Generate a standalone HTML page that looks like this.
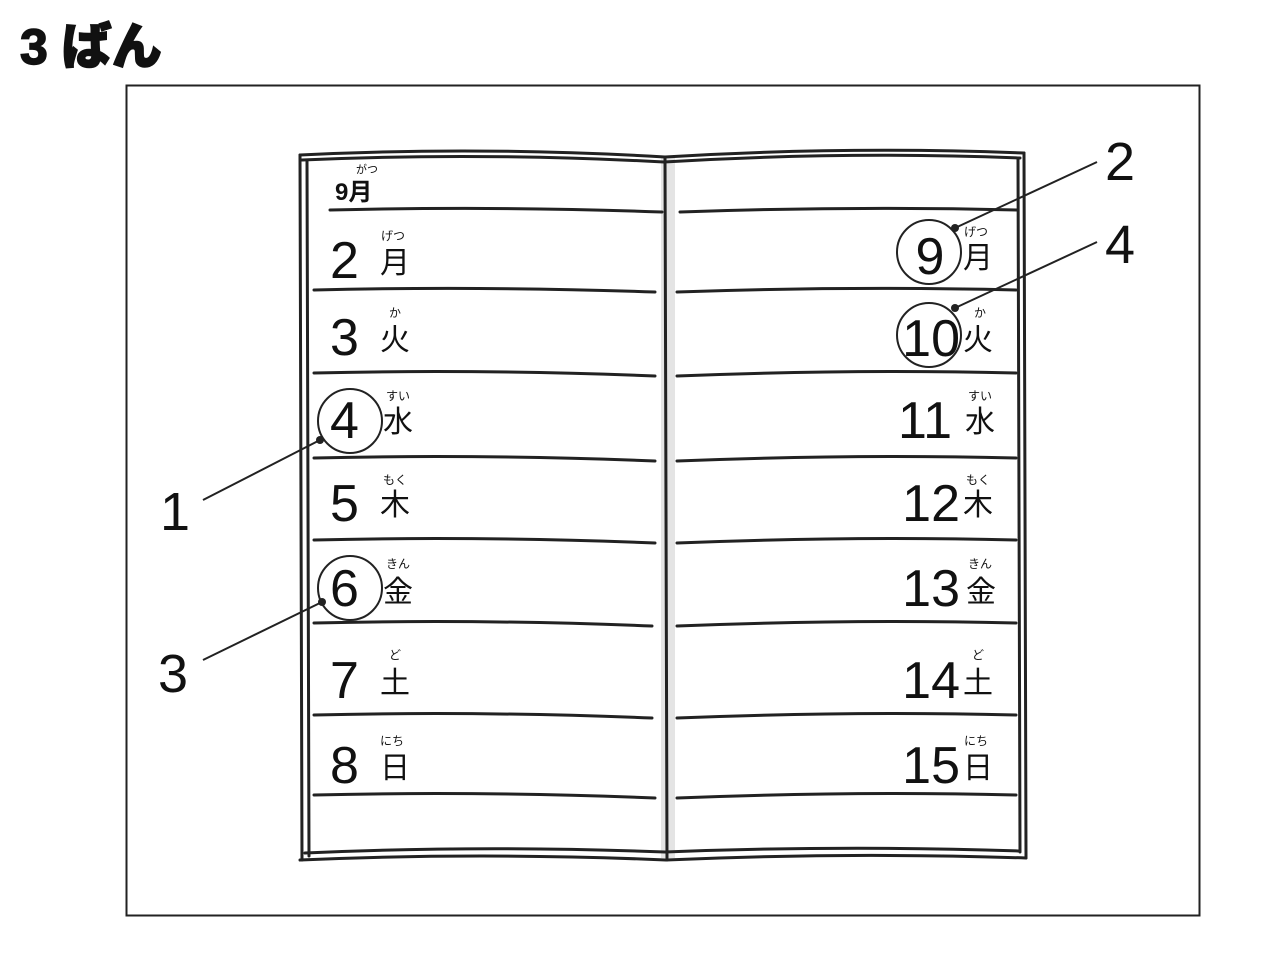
<!DOCTYPE html>
<html><head><meta charset="utf-8"><style>
html,body{margin:0;padding:0;background:#fff;}
body{width:1262px;height:972px;overflow:hidden;}
svg{display:block;font-family:"Liberation Sans","Noto Sans CJK JP",sans-serif;}
</style></head><body>
<svg width="1262" height="972" viewBox="0 0 1262 972">
<text x="20" y="64" font-size="50" font-weight="900" fill="#111" stroke="#111" stroke-width="1.5">3 ばん</text>
<rect x="126.5" y="85.5" width="1073" height="830" fill="none" stroke="#222" stroke-width="2"/>
<rect x="661" y="158" width="14" height="700" fill="#e4e4e4"/>
<g fill="none" stroke="#222" stroke-width="3" stroke-linecap="round">
<path d="M300 155 Q480 146 665 157 Q845 146 1024 153"/>
<path d="M302 160 Q480 152 664 162 Q845 151 1020 158"/>
<path d="M300 155 L302 860 M307 160 L309 856 M1024 153 L1026 858 M1018 158 L1020 852"/>
<path d="M300 860 Q480 852 666 860 Q845 852 1026 858"/>
<path d="M305 853 Q480 845 665 852 Q845 845 1020 851"/>
<path d="M665 157 L667 860"/>
<path d="M330 210 Q500 206 662 212"/>
<path d="M680 212 Q850 206 1018 210"/>
<path d="M314 290 Q480 286 655 292 M677 292 Q850 286 1016 290"/>
<path d="M314 373 Q480 369 655 376 M677 376 Q850 369 1016 373"/>
<path d="M314 458 Q480 454 655 461 M677 461 Q850 454 1016 458"/>
<path d="M314 540 Q480 536 655 543 M677 543 Q850 536 1016 540"/>
<path d="M314 623 Q480 619 652 626 M677 626 Q850 619 1016 623"/>
<path d="M314 715 Q480 711 652 718 M677 718 Q850 711 1016 715"/>
<path d="M314 795 Q480 791 655 798 M677 798 Q850 791 1016 795"/>
</g>
<g fill="#111">
<text x="335" y="200" font-size="24" font-weight="bold">9月</text>
<text x="356" y="173" font-size="11">がつ</text>
<g font-size="52">
<text x="330" y="278">2</text><text x="330" y="355">3</text><text x="330" y="438">4</text>
<text x="330" y="521">5</text><text x="330" y="606">6</text><text x="330" y="698">7</text><text x="330" y="783">8</text>
</g>
<text x="930" y="274" font-size="52" text-anchor="middle">9</text>
<g font-size="52" text-anchor="end">
<text x="960" y="356">10</text><text x="952" y="438">11</text>
<text x="960" y="521">12</text><text x="960" y="606">13</text><text x="960" y="698">14</text><text x="960" y="783">15</text>
</g>
<g font-size="30">
<text x="380" y="273">月</text><text x="380" y="350">火</text><text x="383" y="432">水</text>
<text x="380" y="515">木</text><text x="383" y="602">金</text><text x="380" y="693">土</text><text x="380" y="778">日</text>
<text x="963" y="268">月</text><text x="963" y="350">火</text><text x="965" y="432">水</text>
<text x="963" y="515">木</text><text x="966" y="602">金</text><text x="963" y="693">土</text><text x="963" y="778">日</text>
</g>
<g font-size="12">
<text x="381" y="240">げつ</text><text x="389" y="317">か</text><text x="386" y="400">すい</text>
<text x="383" y="484">もく</text><text x="386" y="568">きん</text><text x="389" y="659">ど</text><text x="380" y="745">にち</text>
<text x="964" y="236">げつ</text><text x="974" y="317">か</text><text x="968" y="400">すい</text>
<text x="966" y="484">もく</text><text x="968" y="568">きん</text><text x="972" y="659">ど</text><text x="964" y="745">にち</text>
</g>
</g>
<g fill="none" stroke="#222" stroke-width="2">
<circle cx="350" cy="421" r="32"/>
<circle cx="350" cy="588" r="32"/>
<circle cx="929" cy="252" r="32"/>
<circle cx="929" cy="335" r="32"/>
<path d="M203 500 L320 440 M203 660 L322 602 M1097 162 L955 228 M1097 242 L955 308"/>
</g>
<g fill="#222"><circle cx="320" cy="440" r="4"/><circle cx="322" cy="602" r="4"/><circle cx="955" cy="228" r="4"/><circle cx="955" cy="308" r="4"/></g>
<g font-size="54" fill="#111">
<text x="160" y="530">1</text><text x="158" y="692">3</text><text x="1105" y="180">2</text><text x="1105" y="263">4</text>
</g>
</svg>
</body></html>
